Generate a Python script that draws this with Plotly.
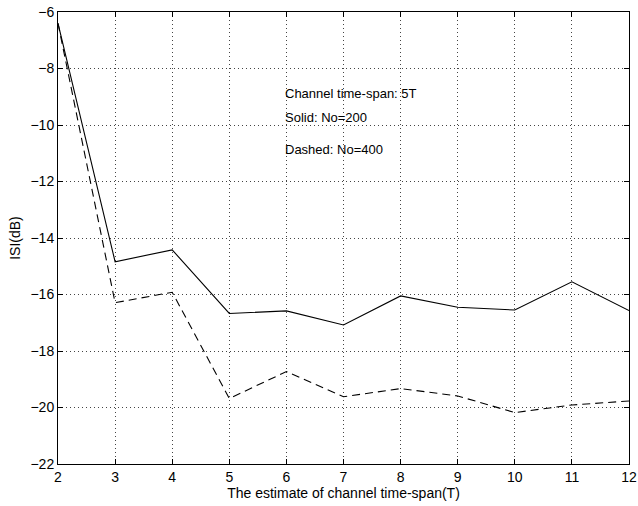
import plotly.graph_objects as go

x_vals = [2, 3, 4, 5, 6, 7, 8, 9, 10, 11, 12]
solid_no200 = [-6.4, -14.84, -14.42, -16.67, -16.58, -17.08, -16.05, -16.45, -16.55, -15.55, -16.57]
dashed_no400 = [-6.4, -16.29, -15.92, -19.68, -18.73, -19.62, -19.33, -19.59, -20.18, -19.91, -19.77]
x_ticks = [2, 3, 4, 5, 6, 7, 8, 9, 10, 11, 12]
y_ticks = [-22, -20, -18, -16, -14, -12, -10, -8, -6]
notes = ["Channel time-span: 5T", "Solid: No=200", "Dashed: No=400"]
note_y = [-8.87, -9.72, -10.85]

fig = go.Figure()
fig.add_trace(go.Scatter(x=x_vals, y=solid_no200, mode="lines",
                         line=dict(color="black", width=1.1), name="No=200"))
fig.add_trace(go.Scatter(x=x_vals, y=dashed_no400, mode="lines",
                         line=dict(color="black", width=1.1, dash="8px,5px"), name="No=400"))

for t, yy in zip(notes, note_y):
    fig.add_annotation(x=6, y=yy, text=t, showarrow=False, xanchor="left",
                       yanchor="middle", xshift=-3,
                       font=dict(size=13, color="black",
                                 family="Liberation Sans, Arial"))

font = dict(family="Liberation Sans, Arial", size=14, color="black")
axis_common = dict(showline=True, linecolor="black", linewidth=1, mirror="ticks",
                   ticks="inside", ticklen=5, tickcolor="black",
                   showgrid=True, gridcolor="#444", griddash="1px,3px", gridwidth=1,
                   zeroline=False, tickfont=font, automargin=False,
                   ticklabeloverflow="allow")

fig.update_xaxes(range=[2, 12], tickvals=x_ticks,
                 title=dict(text="The estimate of channel time-span(T)", font=font, standoff=0),
                 **axis_common)
fig.update_yaxes(range=[-22, -6], tickvals=y_ticks,
                 ticktext=[f"\u2212{abs(v)}" for v in y_ticks],
                 title=dict(text="ISI(dB)", font=font, standoff=6),
                 **axis_common)

fig.update_layout(width=638, height=506, showlegend=False,
                  paper_bgcolor="white", plot_bgcolor="white",
                  margin=dict(l=58, r=9, t=12, b=42), font=font)

fig.write_html("out.html", config={"displayModeBar": False},
               post_script="document.body.style.margin='0';document.body.style.overflow='hidden';")
